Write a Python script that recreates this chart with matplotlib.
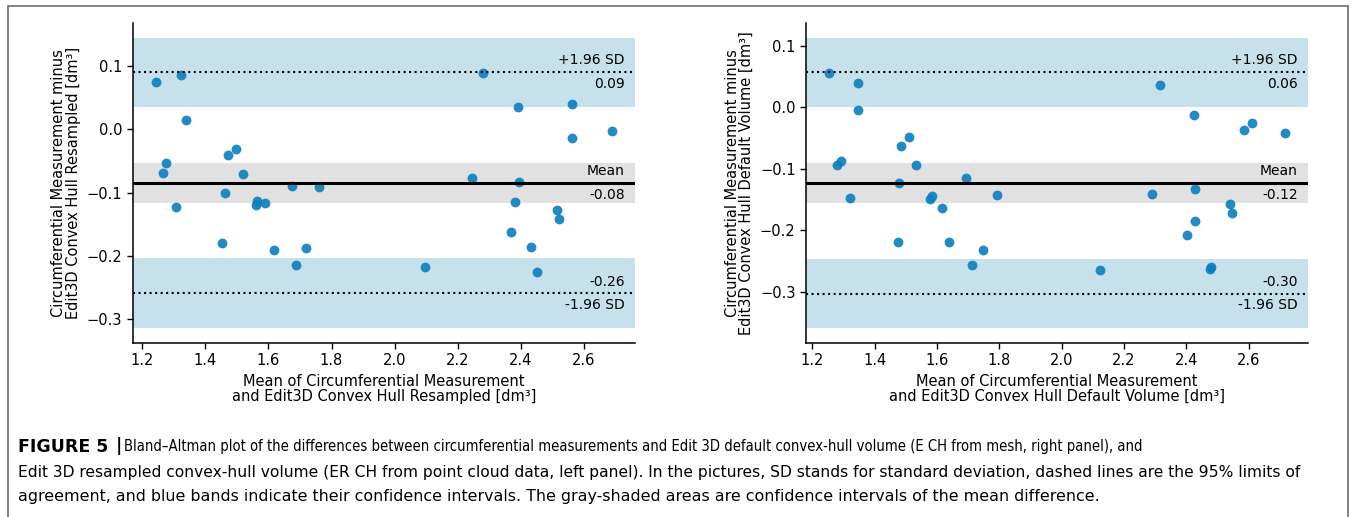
import numpy as np
import matplotlib
matplotlib.use("Agg")
import matplotlib.pyplot as plt
import matplotlib.transforms as mtransforms
from matplotlib.patches import Rectangle

# left panel: Edit3D convex hull resampled
left_avg = [1.242, 1.324, 1.338, 1.275, 1.266, 1.308, 1.454, 1.473, 1.498, 1.520,
            1.463, 1.559, 1.564, 1.589, 1.618, 1.676, 1.687, 1.720, 1.760, 2.095,
            2.281, 2.247, 2.392, 2.395, 2.382, 2.369, 2.431, 2.450, 2.515, 2.520,
            2.564, 2.561, 2.690]
left_diff = [0.075, 0.086, 0.014, -0.054, -0.069, -0.123, -0.180, -0.041, -0.031, -0.071,
             -0.101, -0.120, -0.114, -0.117, -0.191, -0.089, -0.214, -0.187, -0.091, -0.218,
             0.089, -0.077, 0.035, -0.084, -0.115, -0.162, -0.186, -0.226, -0.128, -0.141,
             0.040, -0.014, -0.003]
left_mean = -0.0845
left_loa = [0.0896, -0.259]
left_mean_ci = [-0.116, -0.0533]
left_hi_ci = [0.0353, 0.144]
left_lo_ci = [-0.314, -0.204]

# right panel: Edit3D convex hull default volume
right_avg = [1.253, 1.348, 1.348, 1.280, 1.293, 1.321, 1.476, 1.485, 1.509, 1.533,
             1.477, 1.577, 1.585, 1.617, 1.638, 1.694, 1.713, 1.746, 1.792, 2.122,
             2.290, 2.316, 2.424, 2.429, 2.429, 2.402, 2.479, 2.477, 2.541, 2.547,
             2.585, 2.609, 2.717]
right_diff = [0.056, 0.040, -0.004, -0.094, -0.087, -0.147, -0.219, -0.063, -0.048, -0.093,
              -0.123, -0.149, -0.144, -0.163, -0.218, -0.114, -0.256, -0.231, -0.143, -0.265,
              -0.141, 0.036, -0.012, -0.133, -0.185, -0.207, -0.260, -0.262, -0.157, -0.171,
              -0.036, -0.025, -0.041]
right_mean = -0.1224
right_loa = [0.0571, -0.3025]
right_mean_ci = [-0.155, -0.0903]
right_hi_ci = [0.0011, 0.1133]
right_lo_ci = [-0.359, -0.2459]

caption_lines = [
    "Bland\u2013Altman plot of the differences between circumferential measurements and Edit 3D default convex-hull volume (E CH from mesh, right panel), and",
    "Edit 3D resampled convex-hull volume (ER CH from point cloud data, left panel). In the pictures, SD stands for standard deviation, dashed lines are the 95% limits of",
    "agreement, and blue bands indicate their confidence intervals. The gray-shaded areas are confidence intervals of the mean difference.",
]

plt.rcParams['font.family'] = 'DejaVu Sans'

dot_color = '#0a7fbd'
band_color = '#c6e1ec'
gray_color = '#e1e1e1'


def bland_altman(ax, avg, diff, mean, loa, mean_ci, hi_ci, lo_ci, xlabel, ylabel):
    ax.axhspan(hi_ci[0], hi_ci[1], facecolor=band_color, lw=0, zorder=0)
    ax.axhspan(lo_ci[0], lo_ci[1], facecolor=band_color, lw=0, zorder=0)
    ax.axhspan(mean_ci[0], mean_ci[1], facecolor=gray_color, lw=0, zorder=0)
    ax.scatter(avg, diff, s=50, color=dot_color, alpha=0.9, lw=0, zorder=2)
    ax.axhline(mean, color='black', lw=2.2, zorder=3)
    ax.axhline(loa[0], color='black', lw=1.5, ls=':', zorder=3)
    ax.axhline(loa[1], color='black', lw=1.5, ls=':', zorder=3)

    trans = mtransforms.blended_transform_factory(ax.transAxes, ax.transData)
    kw = dict(xycoords=trans, textcoords='offset points', ha='right', fontsize=10)
    ax.annotate('+1.96 SD', xy=(0.98, loa[0]), xytext=(0, 3.5), va='bottom', **kw)
    ax.annotate(f"{loa[0]:.2f}", xy=(0.98, loa[0]), xytext=(0, -3.5), va='top', **kw)
    ax.annotate('Mean', xy=(0.98, mean), xytext=(0, 3.5), va='bottom', **kw)
    ax.annotate(f"{mean:.2f}", xy=(0.98, mean), xytext=(0, -3.5), va='top', **kw)
    ax.annotate(f"{loa[1]:.2f}", xy=(0.98, loa[1]), xytext=(0, 3.5), va='bottom', **kw)
    ax.annotate('-1.96 SD', xy=(0.98, loa[1]), xytext=(0, -3.5), va='top', **kw)

    ax.set_xlabel(xlabel, fontsize=10.5, labelpad=4, linespacing=1.0)
    ax.set_ylabel(ylabel, fontsize=10.5, labelpad=4, linespacing=0.97)
    ax.tick_params(labelsize=10.5, width=1, length=4)
    ax.spines['top'].set_visible(False)
    ax.spines['right'].set_visible(False)
    ax.spines['left'].set_linewidth(1.1)
    ax.spines['bottom'].set_linewidth(1.1)


fig = plt.figure(figsize=(13.56, 5.17), dpi=100)
ax1 = fig.add_axes([0.0979, 0.337, 0.3704, 0.618])
ax2 = fig.add_axes([0.5944, 0.337, 0.3702, 0.618])

bland_altman(ax1, left_avg, left_diff, left_mean, left_loa, left_mean_ci, left_hi_ci, left_lo_ci,
             "Mean of Circumferential Measurement\nand Edit3D Convex Hull Resampled [dm\u00b3]",
             "Circumferential Measurement minus\nEdit3D Convex Hull Resampled [dm\u00b3]")
bland_altman(ax2, right_avg, right_diff, right_mean, right_loa, right_mean_ci, right_hi_ci, right_lo_ci,
             "Mean of Circumferential Measurement\nand Edit3D Convex Hull Default Volume [dm\u00b3]",
             "Circumferential Measurement minus\nEdit3D Convex Hull Default Volume [dm\u00b3]")

# outer frame of the figure panel (bottom edge runs off the image)
W, H = 1356, 517
fig.patches.append(Rectangle((8 / W, -0.1), (1348 - 8) / W, 1.1 - 6 / H,
                             transform=fig.transFigure, fill=False,
                             edgecolor='#6e6e6e', lw=1.2))

# caption
fig.text(18 / W, 1 - 447 / H, "FIGURE 5", fontsize=12.5, fontweight='bold', va='center')
fig.text(116 / W, 1 - 446 / H, "|", fontsize=12.5, fontweight='bold', va='center')
fig.text(124 / W, 1 - 447 / H, caption_lines[0], fontsize=10.6, fontstretch='condensed', va='center')
fig.text(18 / W, 1 - 472 / H, caption_lines[1], fontsize=11.2, va='center')
fig.text(18 / W, 1 - 497 / H, caption_lines[2], fontsize=11.4, va='center')

fig.savefig("out.png", dpi=100)
